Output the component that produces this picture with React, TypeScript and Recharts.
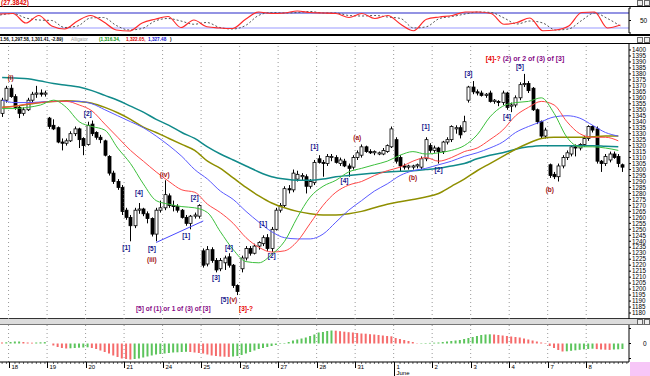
import React from 'react';
import {
  ComposedChart,
  LineChart,
  BarChart,
  Bar,
  Line,
  XAxis,
  YAxis,
  ReferenceLine,
  ReferenceDot,
  Cell,
} from 'recharts';

const SLOT_COUNT = 147;
const DAY_LABELS = ['18', '19', '20', '21', '24', '25', '26', '27', '28', '31', '1', '2', '3', '4', '7', '8'];
const DAY_START = [2, 11, 20, 29, 38, 47, 56, 65, 74, 83, 92, 101, 110, 119, 128, 137];

const PRICE_TICKS = [
  1180, 1185, 1190, 1195, 1200, 1205, 1210, 1215, 1220, 1225, 1230, 1235, 1240, 1245, 1250,
  1255, 1260, 1265, 1270, 1275, 1280, 1285, 1290, 1295, 1300, 1305, 1310, 1315, 1320, 1325,
  1330, 1335, 1340, 1345, 1350, 1355, 1360, 1365, 1370, 1375, 1380, 1385, 1390, 1395, 1400,
];

// candles, one per slot
const OPEN = [
  1347, 1358, 1368, 1361, 1352, 1347, 1350, 1358, 1363, 1364, 1363,
  1343, 1337, 1335, 1323, 1322, 1324, 1330, 1334, 1326,
  1321, 1338, 1331, 1327, 1324, 1311, 1297, 1290, 1285,
  1266, 1260, 1253, 1266, 1267, 1263, 1259, 1246, 1266,
  1268, 1278, 1270, 1269, 1266, 1260, 1255, 1261, 1261,
  1232, 1221, 1233, 1224, 1217, 1222, 1227, 1220, 1203,
  1217, 1226, 1234, 1230, 1236, 1238, 1243, 1234, 1250,
  1266, 1270, 1284, 1283, 1292, 1294, 1294, 1286, 1289,
  1309, 1306, 1305, 1310, 1310, 1305, 1307, 1303, 1302,
  1310, 1312, 1319, 1315, 1314, 1313, 1313, 1315, 1319,
  1325, 1310, 1303, 1302, 1302, 1303, 1302, 1309, 1320,
  1316, 1318, 1315, 1323, 1325, 1334, 1335, 1332, 1358,
  1369, 1365, 1364, 1362, 1364, 1357, 1357, 1356, 1364,
  1353, 1354, 1360, 1371, 1372, 1368, 1350, 1340, 1328,
  1304, 1296, 1294, 1303, 1310, 1313, 1319, 1318, 1321,
  1326, 1336, 1334, 1307, 1305, 1308, 1313, 1311, 1304,
];
const HIGH = [
  1360, 1370, 1371, 1363, 1354, 1352, 1360, 1365, 1370, 1367, 1366,
  1344, 1342, 1336, 1326, 1326, 1332, 1336, 1335, 1327,
  1340, 1341, 1332, 1329, 1325, 1312, 1299, 1292, 1287,
  1268, 1262, 1268, 1272, 1268, 1265, 1260, 1268, 1274,
  1291, 1280, 1274, 1271, 1267, 1262, 1262, 1264, 1271,
  1234, 1236, 1235, 1226, 1226, 1228, 1230, 1221, 1204,
  1228, 1236, 1236, 1238, 1240, 1245, 1246, 1252, 1268,
  1272, 1286, 1287, 1300, 1299, 1297, 1296, 1292, 1308,
  1312, 1308, 1313, 1313, 1312, 1310, 1309, 1305, 1312,
  1316, 1321, 1320, 1317, 1316, 1315, 1318, 1321, 1336,
  1327, 1312, 1305, 1304, 1304, 1305, 1311, 1327, 1322,
  1320, 1319, 1324, 1327, 1337, 1337, 1337, 1345, 1370,
  1374, 1367, 1366, 1364, 1366, 1359, 1358, 1366, 1365,
  1356, 1362, 1373, 1380, 1374, 1369, 1351, 1341, 1335,
  1305, 1298, 1305, 1312, 1316, 1320, 1321, 1322, 1328,
  1337, 1337, 1336, 1308, 1313, 1315, 1315, 1313, 1305,
];
const LOW = [
  1344, 1356, 1360, 1350, 1343, 1345, 1349, 1356, 1360, 1361, 1361,
  1334, 1333, 1322, 1316, 1320, 1323, 1328, 1318, 1312,
  1320, 1328, 1325, 1322, 1311, 1295, 1288, 1283, 1262,
  1258, 1240, 1251, 1263, 1261, 1255, 1244, 1240, 1264,
  1266, 1268, 1265, 1264, 1259, 1253, 1250, 1259, 1259,
  1218, 1219, 1222, 1214, 1215, 1216, 1218, 1201, 1195,
  1214, 1224, 1228, 1229, 1233, 1236, 1232, 1231, 1249,
  1264, 1268, 1280, 1281, 1290, 1291, 1280, 1284, 1287,
  1305, 1294, 1303, 1307, 1305, 1303, 1302, 1294, 1300,
  1308, 1310, 1314, 1313, 1312, 1312, 1312, 1314, 1318,
  1305, 1298, 1300, 1300, 1300, 1301, 1300, 1307, 1314,
  1314, 1305, 1313, 1321, 1323, 1330, 1326, 1331, 1356,
  1363, 1362, 1361, 1360, 1356, 1355, 1353, 1354, 1350,
  1348, 1352, 1358, 1369, 1364, 1349, 1338, 1326, 1326,
  1293, 1292, 1290, 1301, 1308, 1311, 1311, 1316, 1319,
  1324, 1331, 1305, 1298, 1303, 1306, 1309, 1302, 1298,
];
const CLOSE = [
  1358, 1368, 1361, 1352, 1347, 1350, 1358, 1363, 1364, 1363, 1364,
  1336, 1334, 1323, 1322, 1324, 1330, 1334, 1325, 1320,
  1337, 1330, 1327, 1325, 1312, 1297, 1290, 1285, 1265,
  1260, 1253, 1266, 1267, 1263, 1259, 1246, 1266, 1268,
  1279, 1270, 1269, 1266, 1260, 1255, 1261, 1262, 1270,
  1220, 1233, 1224, 1216, 1224, 1226, 1220, 1203, 1198,
  1226, 1234, 1230, 1236, 1239, 1243, 1234, 1250, 1266,
  1270, 1284, 1283, 1297, 1296, 1295, 1286, 1290, 1306,
  1306, 1305, 1311, 1311, 1306, 1308, 1303, 1301, 1310,
  1314, 1319, 1315, 1314, 1315, 1314, 1316, 1320, 1334,
  1307, 1303, 1302, 1303, 1303, 1304, 1309, 1325, 1316,
  1318, 1315, 1323, 1325, 1336, 1335, 1329, 1340, 1369,
  1365, 1364, 1362, 1363, 1357, 1358, 1356, 1364, 1352,
  1354, 1360, 1371, 1372, 1366, 1350, 1340, 1328, 1333,
  1295, 1294, 1303, 1310, 1314, 1319, 1318, 1321, 1326,
  1336, 1333, 1307, 1305, 1311, 1313, 1310, 1305, 1302,
];

// averages and stochastic, read every third slot
const TEAL = [
  1377, 1376.5, 1376, 1374, 1372, 1370.5, 1369, 1366, 1362, 1358, 1353, 1348, 1342, 1337, 1331,
  1326, 1319, 1313, 1308, 1303, 1298, 1294, 1292, 1291, 1291, 1292, 1294, 1295, 1296, 1297,
  1298, 1298.5, 1299, 1300, 1301, 1303, 1305, 1309, 1312, 1314, 1317, 1319, 1320, 1320, 1320,
  1320, 1320, 1319.5, 1319,
];
const OLIVE = [
  1352, 1353, 1354.5, 1356, 1357, 1357.5, 1357, 1355.5, 1352, 1347.5, 1342, 1335.5, 1331, 1326, 1321,
  1316, 1307, 1301, 1293, 1285, 1278, 1272, 1268, 1265, 1263, 1262, 1262, 1263, 1265, 1268,
  1271, 1273, 1275, 1277, 1280, 1286, 1292, 1299, 1305, 1311, 1317, 1322, 1326, 1327, 1327,
  1327, 1327.5, 1328, 1328,
];
const JAW = [
  1358, 1356, 1356, 1356.5, 1357, 1357, 1357, 1355, 1350, 1345, 1340, 1335, 1328, 1320, 1311,
  1300, 1292, 1282, 1275, 1265, 1256, 1248, 1243, 1242, 1242, 1246, 1256, 1266, 1274, 1282,
  1288, 1295, 1299, 1301, 1304, 1307, 1311, 1314, 1318, 1323, 1331, 1336, 1340, 1344, 1345,
  1343, 1337, 1331, 1328,
];
const TEETH = [
  1352, 1353, 1355, 1356, 1357, 1357, 1354, 1349, 1338, 1327, 1316, 1307, 1298, 1290, 1283,
  1281, 1271, 1264, 1255, 1243, 1235, 1231, 1232, 1240, 1255, 1270, 1281, 1287, 1290, 1295,
  1299, 1302, 1307, 1310, 1307, 1310, 1315, 1318, 1325, 1333, 1345, 1352, 1357, 1354, 1340,
  1330, 1327, 1327, 1324,
];
const LIPS = [
  1351, 1351, 1352, 1354, 1358, 1352, 1340, 1336, 1333, 1318, 1305, 1288, 1274, 1271, 1269,
  1268, 1264, 1248, 1233, 1223, 1222, 1229, 1240, 1260, 1277, 1286, 1291, 1298, 1301, 1304,
  1307, 1312, 1315, 1313, 1314, 1316, 1320, 1329, 1344, 1353, 1356, 1357, 1360, 1347, 1327,
  1319, 1319, 1318, 1316,
];
const STOCH_K = [
  76, 78, 40, 70, 28, 16, 48, 70, 45, 12, 8, 40, 55, 66, 22, 52, 25, 20, 18, 55,
  84, 78, 80, 88, 82, 80, 78, 62, 78, 58, 70, 35, 9, 55, 64, 70, 84, 84, 78, 35,
  42, 60, 9, 12, 28, 82, 84, 20, 32,
];
const STOCH_D = [
  72, 78, 60, 52, 50, 22, 28, 60, 62, 30, 12, 18, 48, 58, 48, 35, 42, 22, 16, 30,
  70, 82, 80, 82, 86, 80, 80, 70, 68, 70, 64, 58, 20, 25, 58, 66, 76, 84, 82, 60,
  36, 48, 40, 12, 16, 50, 80, 58, 28,
];

const HIST = [
  1, 1.2,
  1.5, 2, 2, 1.5, 1, 0.8, 1, 1.2, 1.4,
  0, -2, -3.5, -4.5, -5, -4.8, -4.5, -4.2, -4,
  -3.8, -4.5, -5.5, -7, -8.5, -10, -12, -13.5, -15,
  -15.5, -16, -15.5, -15, -14, -13, -12, -11, -10.5,
  -10, -9.5, -9, -8.8, -8.5, -8.3, -8.5, -9, -9.5,
  -10, -11, -12, -12.5, -13, -13.2, -13.4, -13, -12.5,
  -11.5, -10, -8.5, -7, -5.5, -4.5, -3.5, -2.5, -1.5,
  -0.5, 0.5, 1.5, 3, 4, 5, 6, 7.5, 9,
  11, 11.5, 12.5, 13, 12.8, 12.3, 11.8, 11.3, 11,
  10.5, 10, 9.8, 9.3, 9, 8.5, 8, 7.5, 7.2,
  5.5, 4.5, 3.5, 2.5, 1.5, 0.3, 0.4, 0.5, 0.6,
  0.8, 1, 1.5, 2, 2.5, 3, 3.5, 4.5, 5.5,
  6.5, 7.5, 8.5, 9, 9.2, 9, 8.5, 8, 7.5,
  7, 6.5, 6, 5, 4, 3, 2, 1, -0.5,
  -2.5, -4.5, -6.5, -8, -7.8, -7.3, -6.8, -6.3, -5.8,
  -5.5, -5.2, -5.6, -6, -6.2, -6.4, -6, -5.8, -5.5,
];

const NAVY = '#14148a';
const DARKRED = '#a01010';
const RED = '#e80000';
const PURPLE = '#860a86';

const WAVE_LABELS = [
  { s: 2, p: 1377, t: '(i)', c: DARKRED },
  { s: 20, p: 1347, t: '[2]', c: NAVY },
  { s: 29, p: 1235, t: '[1]', c: NAVY },
  { s: 32, p: 1281, t: '[4]', c: NAVY },
  { s: 35, p: 1234, t: '[5]', c: NAVY },
  { s: 35, p: 1225, t: '(iii)', c: DARKRED },
  { s: 38, p: 1296, t: '(iv)', c: DARKRED },
  { s: 43, p: 1245, t: '[1]', c: NAVY },
  { s: 45, p: 1277, t: '[2]', c: NAVY },
  { s: 50, p: 1210, t: '[3]', c: NAVY },
  { s: 53, p: 1235, t: '[4]', c: NAVY },
  { s: 52, p: 1191, t: '[5]', c: NAVY },
  { s: 54, p: 1191, t: '(v)', c: DARKRED },
  { s: 57, p: 1184, t: '[3]-?', c: RED },
  { s: 40, p: 1184, t: '[5] of (1) or 1 of (3) of [3]', c: PURPLE },
  { s: 61, p: 1255, t: '[1]', c: NAVY },
  { s: 63, p: 1228, t: '[2]', c: NAVY },
  { s: 73, p: 1319, t: '[1]', c: NAVY },
  { s: 80, p: 1291, t: '[4]', c: NAVY },
  { s: 83, p: 1327, t: '(a)', c: DARKRED },
  { s: 96, p: 1293, t: '(b)', c: DARKRED },
  { s: 99, p: 1336, t: '[1]', c: NAVY },
  { s: 102, p: 1300, t: '[2]', c: NAVY },
  { s: 109, p: 1380, t: '[3]', c: NAVY },
  { s: 118, p: 1344, t: '[4]', c: NAVY },
  { s: 121, p: 1386, t: '[5]', c: NAVY },
  { s: 128, p: 1283, t: '(b)', c: DARKRED },
];

const rows = Array.from({ length: SLOT_COUNT }, (_, i) => {
  const k = i / 3;
  const s = i % 3 === 0 && k < TEAL.length;
  const has = OPEN[i] != null;
  return {
    i,
    open: has ? OPEN[i] : null,
    high: has ? HIGH[i] : null,
    low: has ? LOW[i] : null,
    close: has ? CLOSE[i] : null,
    range: has ? [LOW[i], HIGH[i]] : null,
    teal: s ? TEAL[k] : null,
    olive: s ? OLIVE[k] : null,
    jaw: s ? JAW[k] : null,
    teeth: s ? TEETH[k] : null,
    lips: s ? LIPS[k] : null,
    stoK: s ? STOCH_K[k] : null,
    stoD: s ? STOCH_D[k] : null,
    hist: HIST[i] != null ? HIST[i] : null,
  };
});

const Candle = (props: any) => {
  const { x, y, width, height, payload } = props;
  if (!payload || payload.open == null) return <g />;
  const { open, close, high, low } = payload;
  const top = Math.min(y, y + height);
  const h = Math.abs(height);
  const ppu = h / (high - low || 1);
  const cx = Math.round(x + width / 2) + 0.5;
  const yo = top + (high - open) * ppu;
  const yc = top + (high - close) * ppu;
  const bt = Math.min(yo, yc);
  const bh = Math.max(1, Math.abs(yc - yo));
  const up = close >= open;
  return (
    <g>
      <line x1={cx} x2={cx} y1={top} y2={top + h} stroke="#000" strokeWidth={1} />
      <rect x={cx - 1.5} y={bt} width={3} height={bh} fill={up ? '#fff' : '#000'} stroke="#000" strokeWidth={0.8} />
    </g>
  );
};

const DayTick = (props: any) => {
  const { x, y, payload } = props;
  const i = payload.value;
  const off = payload.offset != null ? payload.offset : 629 / SLOT_COUNT / 2;
  const d = DAY_START.indexOf(i);
  if (d < 0) {
    return <line x1={x} x2={x} y1={y} y2={y + 2} stroke="#000" strokeWidth={0.6} />;
  }
  const sx = Math.round(x - off) + 0.5;
  const isJune = DAY_LABELS[d] === '1';
  return (
    <g>
      <line x1={sx} x2={sx} y1={y} y2={y + (isJune ? 14 : 6)} stroke="#000" strokeWidth={1} />
      <text x={sx + 2} y={y + 6.5} fontSize={6} fill="#000">
        {DAY_LABELS[d]}
      </text>
      {isJune && (
        <text x={sx + 2} y={y + 13} fontSize={6} fill="#000">
          June
        </text>
      )}
    </g>
  );
};

const Icons = ({ top }: { top: number }) => (
  <>
    <div style={{ position: 'absolute', left: 637, top, width: 4, height: 4, border: '1px solid #666', background: '#eee' }} />
    <div style={{ position: 'absolute', left: 644, top, width: 4, height: 4, border: '1px solid #666', background: '#eee' }} />
  </>
);

const hline = (top: number, h: number, color: string) => (
  <div style={{ position: 'absolute', left: 0, top, width: 650, height: h, background: color }} />
);

export default function App() {
  return (
    <div
      style={{
        position: 'absolute',
        left: 0,
        top: 0,
        width: 650,
        height: 376,
        background: '#fff',
        overflow: 'hidden',
        fontFamily: 'Arial, "Liberation Sans", sans-serif',
      }}
    >
      {hline(6, 1, '#000')}
      {hline(34, 1.5, '#000')}
      {hline(43, 1, '#000')}
      {hline(318, 1, '#333')}
      {hline(319, 5, '#dcdcdc')}
      {hline(324, 1, '#777')}
      <div style={{ position: 'absolute', left: 630, top: 362, width: 20, height: 14, background: '#f7c6f7' }} />
      <Icons top={0} />
      <Icons top={37} />
      <Icons top={319} />

      {/* stochastic */}
      <div style={{ position: 'absolute', left: 0, top: 0 }}>
        <LineChart width={650} height={40} data={rows} margin={{ top: 8, right: 0, bottom: 7, left: 0 }}>
          <XAxis dataKey="i" hide />
          <YAxis
            orientation="right"
            domain={[0, 100]}
            ticks={[0, 50, 100]}
            interval={0}
            width={21}
            tickSize={2}
            tickMargin={9}
            tickFormatter={(v) => (v === 50 ? '50' : '')}
            tick={{ fontSize: 6.5, fill: '#000' }}
            tickLine={{ stroke: '#000' }}
            axisLine={{ stroke: '#000' }}
          />
          <ReferenceLine y={80} stroke="#2828c8" strokeWidth={1.2} />
          <ReferenceLine y={20} stroke="#9a9aff" strokeWidth={1.2} />
          <Line dataKey="stoD" type="monotone" stroke="#555" strokeWidth={1} strokeDasharray="2 2" dot={false} activeDot={false} connectNulls isAnimationActive={false} />
          <Line dataKey="stoK" type="monotone" stroke="#ff2a2a" strokeWidth={1.2} dot={false} activeDot={false} connectNulls isAnimationActive={false} />
        </LineChart>
      </div>

      {/* price */}
      <div style={{ position: 'absolute', left: 0, top: 40 }}>
        <ComposedChart width={650} height={285} data={rows} margin={{ top: 4, right: 0, bottom: 6, left: 0 }} barCategoryGap={0}>
          <XAxis dataKey="i" hide />
          <YAxis
            orientation="right"
            domain={[1175, 1405]}
            ticks={PRICE_TICKS}
            interval={0}
            allowDataOverflow
            width={21}
            tickSize={2}
            tickMargin={1}
            tick={{ fontSize: 6.3, fill: '#000' }}
            tickLine={{ stroke: '#000' }}
            axisLine={{ stroke: '#000' }}
          />
          {DAY_START.map((d) => (
            <ReferenceLine key={d} x={d} position="start" stroke="#9a9a9a" strokeDasharray="1 3" />
          ))}
          <Line dataKey="teal" type="monotone" stroke="#108a8a" strokeWidth={1.5} dot={false} activeDot={false} connectNulls isAnimationActive={false} />
          <Line dataKey="olive" type="monotone" stroke="#8f8f00" strokeWidth={1.5} dot={false} activeDot={false} connectNulls isAnimationActive={false} />
          <Line dataKey="jaw" type="monotone" stroke="#5a5aff" strokeWidth={1} dot={false} activeDot={false} connectNulls isAnimationActive={false} />
          <Line dataKey="teeth" type="monotone" stroke="#ff4848" strokeWidth={1} dot={false} activeDot={false} connectNulls isAnimationActive={false} />
          <Line dataKey="lips" type="monotone" stroke="#3cbf3c" strokeWidth={1} dot={false} activeDot={false} connectNulls isAnimationActive={false} />
          <ReferenceLine segment={[{ x: 36, y: 1239 }, { x: 47, y: 1257 }]} stroke="#4a4aff" strokeWidth={1} />
          <Bar dataKey="range" shape={Candle} isAnimationActive={false} />
          {WAVE_LABELS.map((a, n) => (
            <ReferenceDot
              key={n}
              x={a.s}
              y={a.p}
              r={0}
              shape={(p: any) => (
                <text x={p.cx} y={p.cy} textAnchor="middle" dominantBaseline="central" fontSize={6.5} fontWeight="bold" fill={a.c}>
                  {a.t}
                </text>
              )}
            />
          ))}
          <ReferenceDot
            x={113}
            y={1393}
            r={0}
            shape={(p: any) => (
              <text x={p.cx} y={p.cy} dominantBaseline="central" fontSize={7} fontWeight="bold">
                <tspan fill={RED}>[4]-?</tspan>
                <tspan fill={PURPLE}> (2) or 2 of (3) of [3]</tspan>
              </text>
            )}
          />
        </ComposedChart>
      </div>

      {/* oscillator */}
      <div style={{ position: 'absolute', left: 0, top: 318 }}>
        <BarChart width={650} height={58} data={rows} margin={{ top: 7, right: 0, bottom: 0, left: 0 }} barCategoryGap={0}>
          <XAxis
            dataKey="i"
            interval={0}
            height={14}
            tickSize={0}
            tickMargin={0}
            tick={<DayTick />}
            axisLine={{ stroke: '#000' }}
          />
          <YAxis
            orientation="right"
            domain={[-18.5, 18.5]}
            ticks={[-15, 0, 15]}
            interval={0}
            width={21}
            tickSize={2}
            tickMargin={12}
            tickFormatter={(v) => (v === 0 ? '0' : '')}
            tick={{ fontSize: 6.5, fill: '#000' }}
            tickLine={{ stroke: '#000' }}
            axisLine={{ stroke: '#000' }}
          />
          {DAY_START.map((d) => (
            <ReferenceLine key={d} x={d} position="start" stroke="#9a9a9a" strokeDasharray="1 3" />
          ))}
          <Bar dataKey="hist" barSize={2} isAnimationActive={false}>
            {rows.map((r, i) => (
              <Cell
                key={i}
                fill={i > 0 && r.hist != null && HIST[i - 1] != null && r.hist >= HIST[i - 1] ? '#5cc45c' : '#f56b6b'}
              />
            ))}
          </Bar>
        </BarChart>
      </div>

      <svg width={650} height={376} style={{ position: 'absolute', left: 0, top: 0, pointerEvents: 'none' }}>
        <text x={1} y={5} fontSize={6.5} fontWeight="bold" fill="#e00000">
          (27.3842)
        </text>
        <text x={0} y={41} fontSize={4.5} fontWeight="bold" fill="#000">
          1.56, 1,297.58, 1,301.41, -2.89)
        </text>
        <text x={71} y={41} fontSize={4.7} fill="#9a9a9a">
          Alligator
        </text>
        <text x={99} y={41} fontSize={4.7} fontWeight="bold" fill="#0a960a">
          (1,316.34,
        </text>
        <text x={126} y={41} fontSize={4.7} fontWeight="bold" fill="#e00000">
          1,322.05,
        </text>
        <text x={148} y={41} fontSize={4.7} fontWeight="bold" fill="#1515d0">
          1,327.48
        </text>
        <text x={170} y={41} fontSize={4.7} fontWeight="bold" fill="#000">
          )
        </text>
      </svg>
    </div>
  );
}
